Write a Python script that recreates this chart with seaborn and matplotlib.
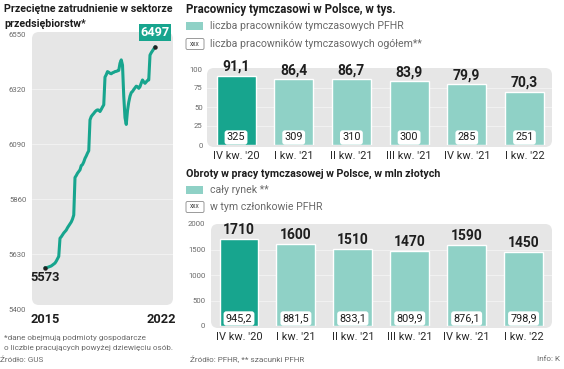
import numpy as np
import pandas as pd
import matplotlib
matplotlib.use("Agg")
import matplotlib.pyplot as plt
import seaborn as sns
from matplotlib.patches import FancyBboxPatch

# ---------------- data ----------------
employment = [
    5573, 5572, 5574, 5576, 5578, 5580, 5584, 5588, 5592, 5600, 5610, 5620,   # 2015
    5696, 5702, 5710, 5718, 5724, 5730, 5740, 5748, 5756, 5764, 5776, 5793,   # 2016
    5950, 5958, 5968, 5975, 5982, 6000, 6004, 6015, 6030, 6040, 6052, 6062,   # 2017
    6191, 6205, 6212, 6218, 6225, 6230, 6233, 6232, 6226, 6235, 6245, 6254,   # 2018
    6370, 6380, 6393, 6390, 6386, 6384, 6388, 6390, 6393, 6394, 6396, 6398,   # 2019
    6428, 6442, 6420, 6290, 6200, 6172, 6230, 6265, 6290, 6305, 6310, 6318,   # 2020
    6325, 6332, 6330, 6323, 6330, 6345, 6358, 6350, 6344, 6350, 6356, 6358,   # 2021
    6462, 6472, 6480, 6488, 6497,                                             # 2022
]
emp_ticks = [5400, 5630, 5860, 6090, 6320, 6550]
year_labels = ["2015", "2022"]

quarters = ["IV kw. '20", "I kw. '21", "II kw. '21", "III kw. '21", "IV kw. '21", "I kw. '22"]
workers_pfhr = [91.1, 86.4, 86.7, 83.9, 79.9, 70.3]
workers_total = [325, 309, 310, 300, 285, 251]
workers_ticks = [0, 25, 50, 75, 100]
turnover_total = [1710, 1600, 1510, 1470, 1590, 1450]
turnover_pfhr = [945.2, 881.5, 833.1, 809.9, 876.1, 798.9]
turnover_ticks = [0, 500, 1000, 1500, 2000]

# ---------------- style ----------------
DARK = "#17a58e"
LIGHT = "#8fd1c6"
PANEL = "#e6e6e6"
GRID = "#f1f1f1"
TXT = "#1e1e1e"
GRAY = "#6a6a6a"

sns.set_theme(style="white")
plt.rcParams["font.family"] = ["Roboto", "DejaVu Sans"]
BOLDF = ["Roboto", "DejaVu Sans"]

W, H = 564, 369
fig = plt.figure(figsize=(W / 100, H / 100), dpi=100)

bg = fig.add_axes([0, 0, 1, 1], zorder=0)
bg.set_xlim(0, W)
bg.set_ylim(H, 0)
bg.axis("off")


def rrect(x0, y0, x1, y1, r, fc, ec="none", lw=0.0):
    bg.add_patch(FancyBboxPatch((x0 + r, y0 + r), x1 - x0 - 2 * r, y1 - y0 - 2 * r,
                                boxstyle=f"round,pad={r}", fc=fc, ec=ec, lw=lw))


def add_ax(x0, y0, x1, y1):
    a = fig.add_axes([x0 / W, 1 - y1 / H, (x1 - x0) / W, (y1 - y0) / H], zorder=2)
    a.set_facecolor("none")
    for s in a.spines.values():
        s.set_visible(False)
    return a


def btext(x, y, s, **kw):
    bg.text(x, y, s, **kw)


# ---------------- left: line chart ----------------
btext(4, 9, "Przeciętne zatrudnienie w sektorze", family=BOLDF, fontweight="bold",
      fontsize=7.7, color=TXT, va="center", ha="left")
btext(4, 24, "przedsiębiorstw*", family=BOLDF, fontweight="bold",
      fontsize=7.7, color=TXT, va="center", ha="left")

rrect(32, 32, 173, 305, 7, PANEL)
ax1 = add_ax(32, 30, 173, 309)
df_emp = pd.DataFrame({"m": np.arange(len(employment)), "v": employment})
for g in emp_ticks[1:-1]:
    ax1.axhline(g, color=GRID, lw=0.8, zorder=0)
sns.lineplot(data=df_emp, x="m", y="v", ax=ax1, color=DARK, lw=2.2, zorder=2)
ax1.set_xlim(-10.4, 102.4)
ax1.set_ylim(5400, 6567)
ax1.set_yticks(emp_ticks)
ax1.set_yticklabels([str(t) for t in emp_ticks], fontsize=5.6, color=GRAY)
ax1.tick_params(axis="y", length=0, pad=4)
ax1.set_xticks([0, 93])
ax1.set_xticklabels(year_labels, fontsize=9.2, fontweight="bold", family=BOLDF, color=TXT)
ax1.tick_params(axis="x", length=0, pad=3)
ax1.set_xlabel("")
ax1.set_ylabel("")
last = len(employment) - 1
ax1.plot([0, last], [employment[0], employment[last]], "o", color="#222", ms=2.2, zorder=3)
ax1.annotate(str(employment[0]), xy=(0, employment[0]), xytext=(0, -10),
             textcoords="offset pixels", ha="center", va="center",
             family=BOLDF, fontweight="bold", fontsize=9.3, color=TXT, annotation_clip=False)
ax1.annotate(str(employment[last]), xy=(last, employment[last]), xytext=(0, 14),
             textcoords="offset pixels", ha="center", va="center",
             family=BOLDF, fontweight="bold", fontsize=9.2, color="white", annotation_clip=False,
             bbox=dict(boxstyle="square,pad=0.15", fc=DARK, ec="none"))

btext(4, 338, "*dane obejmują podmioty gospodarcze", fontsize=5.9, color=GRAY, va="center")
btext(4, 348, "o liczbie pracujących powyżej dziewięciu osób.", fontsize=5.9, color=GRAY, va="center")
btext(0, 360, "Źródło: GUS", fontsize=5.9, color=GRAY, va="center")


# ---------------- right: bar charts ----------------
def legend_block(y_title, title, tsize, y1, lab1, y2, lab2):
    btext(186, y_title, title, family=BOLDF, fontweight="bold", fontsize=tsize,
          color=TXT, va="center", ha="left")
    bg.add_patch(plt.Rectangle((186, y1 - 4), 17, 8, fc=LIGHT, ec="none"))
    btext(210, y1, lab1, fontsize=7.6, color=GRAY, va="center", ha="left")
    rrect(186, y2 - 5.5, 204, y2 + 5.5, 1.5, "white", ec="#8a8a8a", lw=0.6)
    btext(195, y2, "xxx", fontsize=4.8, color="#444", va="center", ha="center")
    btext(210, y2, lab2, fontsize=7.6, color=GRAY, va="center", ha="left")


def fmt(v):
    s = f"{v:g}"
    return s.replace(".", ",")


def bar_panel(ax, values, inner, ticks, ylim, xlim, width, ypad):
    pal = [DARK] + [LIGHT] * (len(values) - 1)
    for g in ticks[1:-1]:
        ax.axhline(g, color=GRID, lw=0.8, zorder=0)
    sns.barplot(x=quarters, y=values, hue=quarters, palette=pal, ax=ax,
                width=width, saturation=1, legend=False, zorder=2)
    ax.set_xlim(*xlim)
    ax.set_ylim(*ylim)
    ax.set_yticks(ticks)
    ax.set_yticklabels([str(t) for t in ticks], fontsize=5.6, color=GRAY)
    ax.tick_params(axis="y", length=0, pad=ypad)
    ax.tick_params(axis="x", length=0, pad=4, labelsize=7.9, labelcolor="#2a2a2a")
    ax.set_xlabel("")
    ax.set_ylabel("")
    for i, (v, w) in enumerate(zip(values, inner)):
        ax.annotate(fmt(v), xy=(i, v), xytext=(0, 2), textcoords="offset pixels",
                    ha="center", va="bottom", family=BOLDF, fontweight="bold",
                    fontsize=10, color=TXT, annotation_clip=False)
        ax.annotate(fmt(w), xy=(i, 0), xytext=(0, 7.5), textcoords="offset pixels",
                    ha="center", va="center", family=BOLDF, fontsize=7.8,
                    color=TXT, annotation_clip=False, zorder=4,
                    bbox=dict(boxstyle="round,pad=0.2,rounding_size=0.25", fc="white", ec="none"))


legend_block(9, "Pracownicy tymczasowi w Polsce, w tys.", 8.3, 26,
             "liczba pracowników tymczasowych PFHR", 44,
             "liczba pracowników tymczasowych ogółem**")
rrect(207, 68, 552, 147, 7, PANEL)
ax2 = add_ax(207, 69, 552, 145)
bar_panel(ax2, workers_pfhr, workers_total, workers_ticks, (0, 100),
          (-0.503, 5.477), 0.676, 3)

legend_block(174, "Obroty w pracy tymczasowej w Polsce, w mln złotych", 7.7, 190,
             "cały rynek **", 207, "w tym członkowie PFHR")
rrect(211, 224, 552, 328, 7, PANEL)
ax3 = add_ax(211, 224, 552, 326)
bar_panel(ax3, turnover_total, turnover_pfhr, turnover_ticks, (0, 2000),
          (-0.492, 5.50), 0.685, 4)

btext(190, 359, "Źródło: PFHR, ** szacunki PFHR", fontsize=5.9, color=GRAY, va="center")
btext(560, 359, "Info: K", fontsize=5.9, color=GRAY, va="center", ha="right")

fig.savefig("out.png", dpi=100)
